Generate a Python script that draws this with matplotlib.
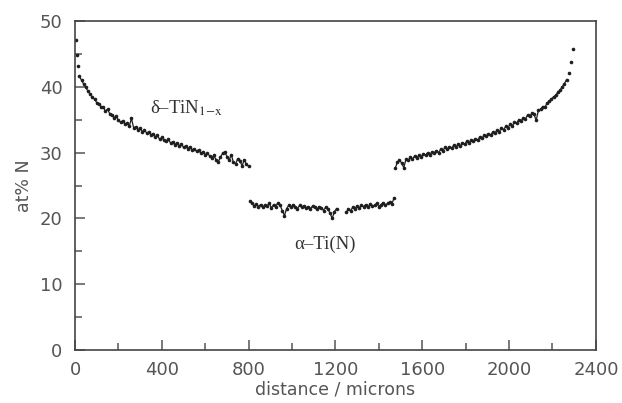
import numpy as np
import matplotlib.pyplot as plt

plt.rcParams['font.family'] = ['DejaVu Sans']
plt.rcParams['mathtext.fontset'] = 'stix'

# 左端的几个点（表面处）
tip_left_x = [3, 10, 15]
tip_left_y = [47.1, 44.8, 43.2]

# δ-TiN 区，x 从 20 起每 10 微米一个点
left_y = [41.6, 41.0, 40.4, 39.9, 39.3, 38.9, 38.4, 38.1, 37.6, 37.4,
          37.0, 36.9, 36.3, 36.6, 35.9, 35.7, 35.3, 35.6, 34.9, 34.6,
          34.8, 34.3, 34.5, 34.0, 35.2, 33.8, 33.9, 33.5, 33.7, 33.2,
          33.4, 33.0, 33.1, 32.7, 32.9, 32.4, 32.6, 32.0, 32.3, 31.9,
          31.7, 32.0, 31.5, 31.6, 31.2, 31.5, 31.0, 31.3, 30.8, 31.0,
          30.6, 30.9, 30.4, 30.6, 30.2, 30.4, 29.9, 30.1, 29.7, 29.9,
          29.5, 29.2, 29.6, 28.9, 28.6, 29.3, 29.9, 30.1, 29.4, 28.8,
          29.7, 28.5, 28.3, 29.1, 28.7, 28.0, 28.9, 28.2, 27.9]
left_x = np.arange(20, 20 + 10 * len(left_y), 10)

# α-Ti(N) 区，两段
mid1_y = [22.6, 22.3, 21.9, 22.2, 21.8, 22.1, 21.7, 22.0, 21.9, 22.3,
          21.6, 22.1, 21.8, 22.4, 22.0, 21.2, 20.4, 21.5, 22.0, 21.7,
          22.1, 21.8, 21.5, 22.0, 21.7, 21.9, 21.6, 21.8, 21.5, 21.9,
          21.7, 21.4, 21.8, 21.6, 21.2, 21.7, 21.4, 20.8, 20.0, 21.0, 21.5]
mid1_x = np.arange(805, 805 + 10 * len(mid1_y), 10)

mid2_y = [21.0, 21.4, 21.2, 21.7, 21.5, 21.9, 21.6, 22.0, 21.8, 22.1,
          21.7, 22.2, 21.9, 22.0, 22.3, 21.8, 22.1, 22.4, 22.0, 22.3,
          22.5, 22.2, 23.1]
mid2_x = np.arange(1250, 1250 + 10 * len(mid2_y), 10)

# 另一侧的 δ-TiN 区
right_y = [27.6, 28.5, 28.9, 28.4, 27.7, 29.0, 28.8, 29.3, 29.0, 29.5,
           29.2, 29.6, 29.4, 29.8, 29.6, 30.0, 29.7, 30.1, 29.9, 30.3,
           30.0, 30.5, 30.3, 30.8, 30.5, 30.9, 30.7, 31.1, 30.8, 31.3,
           31.0, 31.5, 31.3, 31.7, 31.5, 31.9, 31.7, 32.1, 31.9, 32.4,
           32.2, 32.6, 32.5, 32.9, 32.7, 33.1, 33.0, 33.4, 33.2, 33.7,
           33.5, 34.0, 33.8, 34.3, 34.1, 34.6, 34.5, 35.0, 34.8, 35.3,
           35.1, 35.7, 35.5, 36.0, 35.8, 34.9, 36.4, 36.6, 37.0, 36.9,
           37.5, 37.8, 38.1, 38.5, 38.7, 39.2, 39.5, 40.0, 40.5, 41.1,
           42.1, 43.8, 45.7]
right_x = np.arange(1475, 1475 + 10 * len(right_y), 10)

x_ticks = [0, 400, 800, 1200, 1600, 2000, 2400]
y_ticks = [0, 10, 20, 30, 40, 50]

grey = '#555555'
dot = '#1e1e1e'

fig = plt.figure(figsize=(6.22, 4.03), dpi=100)
ax = fig.add_axes([0.1206, 0.1315, 0.8374, 0.8164])

for xs, ys in [(left_x, left_y), (mid1_x, mid1_y), (mid2_x, mid2_y),
               (right_x[:-3], right_y[:-3])]:
    ax.plot(xs, ys, '-', lw=0.9, color=dot)
for xs, ys in [(tip_left_x, tip_left_y), (left_x, left_y),
               (mid1_x, mid1_y), (mid2_x, mid2_y), (right_x, right_y)]:
    ax.plot(xs, ys, 'o', ms=2.6, color=dot, mec='none')

ax.set_xlim(0, 2400)
ax.set_ylim(0, 50)
ax.set_xticks(x_ticks)
ax.set_yticks(y_ticks)
ax.set_xticks(np.arange(200, 2400, 400), minor=True)
ax.set_yticks(np.arange(5, 50, 10), minor=True)
ax.tick_params(which='both', direction='in', color=grey, width=1.1,
               top=False, right=False, labelcolor=grey, labelsize=13)
ax.tick_params(which='major', length=7)
ax.tick_params(which='minor', length=5)
ax.tick_params(axis='x', pad=8)
ax.tick_params(axis='y', pad=9)
for s in ax.spines.values():
    s.set_color('#444444')
    s.set_linewidth(1.2)

ax.set_xlabel('distance / microns', color=grey, fontsize=12.5, labelpad=1)
ax.set_ylabel('at% N', color=grey, fontsize=12.5, labelpad=5)

ax.text(345, 36.8, r'δ–TiN$_{\mathrm{1\!-\!x}}$', family='Liberation Serif',
        fontsize=13.5, color='#333333', va='center')
ax.text(1150, 16, 'α–Ti(N)', family='Liberation Serif',
        fontsize=13.5, color='#333333', va='center', ha='center')

fig.savefig('out.png', dpi=100)
